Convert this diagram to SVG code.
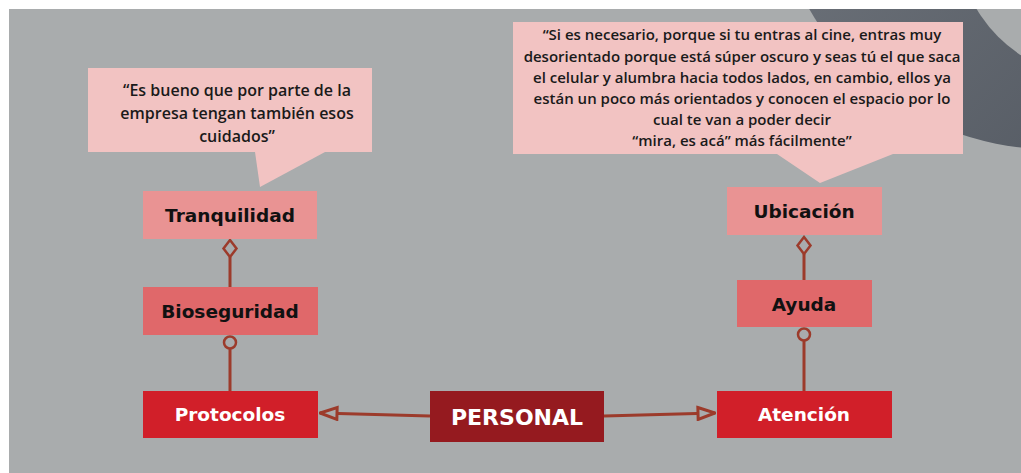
<svg xmlns="http://www.w3.org/2000/svg" width="1021" height="473" viewBox="0 0 1021 473">
  <style>
    .bubble { fill: #f2c3c2; }
    .qt { font-family: "Open Sans", "Noto Sans", sans-serif; font-weight: 600; fill: #1a1a1a; text-anchor: middle; }
    .lbl { font-family: "DejaVu Sans", "Liberation Sans", sans-serif; font-weight: 700; text-anchor: middle; dominant-baseline: central; }
    .dark { fill: #111111; font-size: 18.5px; }
    .light { fill: #ffffff; font-size: 18.5px; }
    .big { fill: #ffffff; font-size: 22px; }
    .conn { stroke: #9c3b2b; stroke-width: 3; fill: none; }
    .t1 { fill: #e99393; }
    .t2 { fill: #e0686a; }
    .t3 { fill: #d11f29; }
    .t4 { fill: #951a1f; }
  </style>
  <defs>
    <linearGradient id="ring" x1="0" y1="0" x2="1" y2="1">
      <stop offset="0" stop-color="#7b8087"/>
      <stop offset="1" stop-color="#4c525b"/>
    </linearGradient>
    <clipPath id="area"><rect x="9" y="9" width="1012" height="464"/></clipPath>
    <marker id="tri" viewBox="0 0 20 16" refX="19" refY="8" markerWidth="20" markerHeight="16" markerUnits="userSpaceOnUse" orient="auto">
      <path d="M2,2 L19,8 L2,14 Z" fill="#a9acad" stroke="#9c3b2b" stroke-width="3" stroke-linejoin="miter"/>
    </marker>
  </defs>
  <rect width="1021" height="473" fill="#ffffff"/>
  <g clip-path="url(#area)">
    <rect x="9" y="9" width="1012" height="464" fill="#a9acad"/>
    <circle cx="1050" cy="-128" r="277" fill="url(#ring)"/>
    <circle cx="1095" cy="-60" r="137" fill="#a9acad"/>
  </g>

  <g id="callout-left">
    <path class="bubble" d="M88,68 H372 V152 H325 L260,187 L255,152 H88 Z"/>
    <text class="qt" font-size="16" x="237" y="96">“Es bueno que por parte de la</text>
    <text class="qt" font-size="16" x="237" y="119">empresa tengan también esos</text>
    <text class="qt" font-size="16" x="237" y="142">cuidados”</text>
  </g>

  <g id="callout-right">
    <path class="bubble" d="M513,22 H963 V154 H893 L820,183 L777,154 H513 Z"/>
    <text class="qt" font-size="15" x="742" y="40">“Si es necesario, porque si tu entras al cine, entras muy</text>
    <text class="qt" font-size="15" x="742" y="62">desorientado porque está súper oscuro y seas tú el que saca</text>
    <text class="qt" font-size="15" x="742" y="83">el celular y alumbra hacia todos lados, en cambio, ellos ya</text>
    <text class="qt" font-size="15" x="742" y="104">están un poco más orientados y conocen el espacio por lo</text>
    <text class="qt" font-size="15" x="742" y="125">cual te van a poder decir</text>
    <text class="qt" font-size="15" x="742" y="146">“mira, es acá” más fácilmente”</text>
  </g>

  <g id="connectors">
    <line class="conn" x1="230" y1="257" x2="230" y2="287"/>
    <path d="M230,240 L236.5,248.5 L230,257 L223.5,248.5 Z" fill="#a9acad" stroke="#9c3b2b" stroke-width="2.5"/>
    <line class="conn" x1="230" y1="349" x2="230" y2="391"/>
    <circle cx="230" cy="342.5" r="6" fill="#a9acad" stroke="#9c3b2b" stroke-width="2.5"/>

    <line class="conn" x1="804" y1="254" x2="804" y2="280"/>
    <path d="M804,237 L810.5,245.5 L804,254 L797.5,245.5 Z" fill="#a9acad" stroke="#9c3b2b" stroke-width="2.5"/>
    <line class="conn" x1="804" y1="341" x2="804" y2="391"/>
    <circle cx="804" cy="334.5" r="6" fill="#a9acad" stroke="#9c3b2b" stroke-width="2.5"/>

    <line class="conn" x1="430" y1="416" x2="320" y2="413" marker-end="url(#tri)"/>
    <line class="conn" x1="604" y1="416" x2="715" y2="413" marker-end="url(#tri)"/>
  </g>

  <g id="node-tranquilidad">
    <rect class="t1" x="143" y="191" width="174" height="48"/>
    <text class="lbl dark" x="230" y="215">Tranquilidad</text>
  </g>
  <g id="node-bioseguridad">
    <rect class="t2" x="143" y="287" width="175" height="48"/>
    <text class="lbl dark" x="230" y="311">Bioseguridad</text>
  </g>
  <g id="node-protocolos">
    <rect class="t3" x="143" y="391" width="175" height="47"/>
    <text class="lbl light" x="230" y="414">Protocolos</text>
  </g>
  <g id="node-personal">
    <rect class="t4" x="430" y="391" width="174" height="51"/>
    <text class="lbl big" x="517" y="417">PERSONAL</text>
  </g>
  <g id="node-ubicacion">
    <rect class="t1" x="727" y="187" width="155" height="48"/>
    <text class="lbl dark" x="804" y="211">Ubicación</text>
  </g>
  <g id="node-ayuda">
    <rect class="t2" x="737" y="280" width="135" height="47"/>
    <text class="lbl dark" x="804" y="304">Ayuda</text>
  </g>
  <g id="node-atencion">
    <rect class="t3" x="717" y="391" width="175" height="47"/>
    <text class="lbl light" x="804" y="414">Atención</text>
  </g>
</svg>
